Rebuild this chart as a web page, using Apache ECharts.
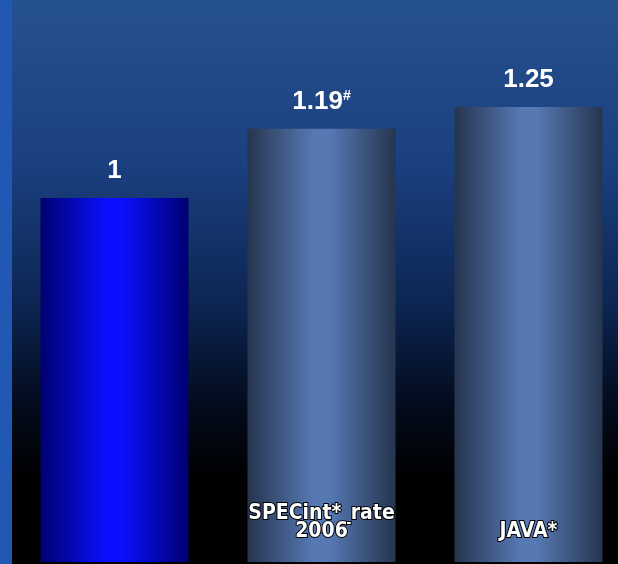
<!DOCTYPE html>
<html>
<head>
<meta charset="utf-8">
<script src="https://cdn.jsdelivr.net/npm/echarts@6/dist/echarts.min.js"></script>
<style>
  html, body { margin: 0; padding: 0; background: #000; }
  #main { width: 618px; height: 564px; }
</style>
</head>
<body>
<div id="main"></div>
<script>
var categories = ['', 'SPECint*_rate\n2006', 'JAVA*'];
var values = [1, 1.19, 1.25];
var notes = ['', '#', ''];

var chartDom = document.getElementById('main');
var myChart = echarts.init(chartDom);

function hGrad(edge, mid) {
  return new echarts.graphic.LinearGradient(0, 0, 1, 0, [
    { offset: 0, color: edge },
    { offset: 0.45, color: mid },
    { offset: 0.55, color: mid },
    { offset: 1, color: edge }
  ]);
}

var barColors = [
  hGrad('#000070', '#0a10ff'),
  hGrad('#26354f', '#5679b4'),
  hGrad('#26354f', '#5679b4')
];

var option = {
  backgroundColor: new echarts.graphic.LinearGradient(0, 0, 0, 1, [
    { offset: 0, color: '#26518f' },
    { offset: 0.3, color: '#1a3f7e' },
    { offset: 0.55, color: '#0c2450' },
    { offset: 0.72, color: '#030b1c' },
    { offset: 0.85, color: '#000000' },
    { offset: 1, color: '#000000' }
  ]),
  graphic: [
    {
      type: 'rect',
      left: 0,
      top: 0,
      shape: { width: 12, height: 564 },
      style: { fill: '#2158b4' },
      z: -1
    }
  ],
  grid: { left: 11, right: -14, top: 16, bottom: 2, outerBoundsMode: 'none', containLabel: false },
  xAxis: {
    type: 'category',
    data: categories,
    axisLine: { show: false },
    axisTick: { show: false },
    axisLabel: {
      inside: true,
      margin: 21,
      color: '#ffffff',
      fontFamily: 'DejaVu Sans Condensed',
      fontWeight: 'bold',
      fontSize: 21,
      lineHeight: 18,
      textBorderColor: '#000000',
      textBorderWidth: 2,
      verticalAlign: 'bottom'
    },
    z: 5
  },
  yAxis: {
    type: 'value',
    min: 0,
    max: 1.5,
    show: false,
    splitLine: { show: false }
  },
  series: [
    {
      type: 'bar',
      barWidth: 148,
      data: values.map(function (v, i) {
        return { value: v, itemStyle: { color: barColors[i] } };
      }),
      label: {
        show: true,
        position: 'top',
        distance: 14,
        formatter: function (p) {
          var n = notes[p.dataIndex];
          return '{v|' + p.value + '}' + (n ? '{s|' + n + '}' : '');
        },
        rich: {
          v: {
            color: '#ffffff',
            fontFamily: 'Liberation Sans',
            fontWeight: 'bold',
            fontSize: 26
          },
          s: {
            color: '#ffffff',
            fontFamily: 'Liberation Sans',
            fontWeight: 'bold',
            fontSize: 14,
            verticalAlign: 'top',
            padding: [0, 0, 12, 0]
          }
        }
      }
    }
  ]
};

myChart.setOption(option);
</script>
</body>
</html>
